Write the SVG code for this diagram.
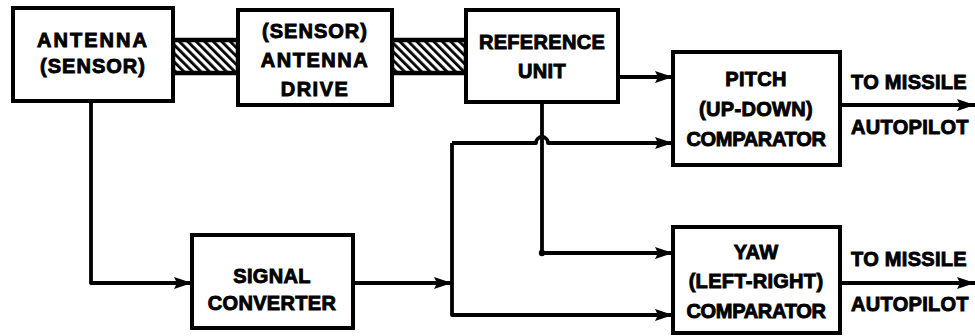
<svg xmlns="http://www.w3.org/2000/svg" width="975" height="336" viewBox="0 0 975 336">
<style>
.box{fill:#fff;stroke:#000;stroke-width:4}
.ln{fill:none;stroke:#000;stroke-width:3.8;stroke-linejoin:round}
.t{font-family:"Liberation Sans",Arial,sans-serif;font-weight:bold;font-size:20px;fill:#000;stroke:#000;stroke-width:0.9;text-anchor:middle;letter-spacing:0.3px}
.o{text-anchor:start}
.n{letter-spacing:-0.3px}
</style>
<defs>
<marker id="ah" viewBox="0 0 18 12" refX="18" refY="6" markerWidth="18" markerHeight="12" markerUnits="userSpaceOnUse" orient="auto">
<path d="M0,0 L18,6 L0,12 L3,6 Z" fill="#000"/>
</marker>
<pattern id="hatch" width="6" height="6" patternUnits="userSpaceOnUse" patternTransform="rotate(-45)">
<rect x="0" y="0" width="6" height="6" fill="#fff"/>
<rect x="0" y="0" width="2.8" height="6" fill="#000"/>
</pattern>
</defs>
<rect width="975" height="336" fill="#fff"/>
<g id="shafts">
<rect x="173" y="40" width="65" height="33" fill="url(#hatch)" stroke="#000" stroke-width="4.5"/>
<rect x="392" y="40" width="74" height="33" fill="url(#hatch)" stroke="#000" stroke-width="4.5"/>
</g>
<g id="connectors">
<path class="ln" d="M618,77 H673" marker-end="url(#ah)"/>
<path class="ln" d="M91,101 V283 H192" marker-end="url(#ah)"/>
<path class="ln" d="M353,283 H452" marker-end="url(#ah)"/>
<path class="ln" d="M452,143 V315 H673" marker-end="url(#ah)"/>
<path class="ln" d="M452,143 H536 A6,6 0 0 1 548,143 H673" marker-end="url(#ah)"/>
<path class="ln" d="M542,102 V253 H673" marker-end="url(#ah)"/>
<circle cx="542" cy="253" r="3.2" fill="#000"/>
<path class="ln" d="M840,105 H975" marker-end="url(#ah)"/>
<path class="ln" d="M840,283 H975" marker-end="url(#ah)"/>
</g>
<g id="antenna">
<rect class="box" x="13" y="8" width="160" height="93"/>
<text class="t" x="93" y="47" style="letter-spacing:2px">ANTENNA</text>
<text class="t" x="93" y="73" style="letter-spacing:1px">(SENSOR)</text>
</g>
<g id="antenna-drive">
<rect class="box" x="238" y="10" width="154" height="95"/>
<text class="t" x="315" y="38" style="letter-spacing:1px">(SENSOR)</text>
<text class="t" x="315" y="67" style="letter-spacing:1.5px">ANTENNA</text>
<text class="t" x="315" y="96" style="letter-spacing:1.5px">DRIVE</text>
</g>
<g id="reference-unit">
<rect class="box" x="466" y="10" width="152" height="92"/>
<text class="t" x="542" y="49">REFERENCE</text>
<text class="t" x="542" y="78">UNIT</text>
</g>
<g id="pitch-comparator">
<rect class="box" x="673" y="52" width="167" height="113"/>
<text class="t" x="756" y="86">PITCH</text>
<text class="t" x="756" y="116">(UP-DOWN)</text>
<text class="t n" x="756" y="146">COMPARATOR</text>
<text class="t o" x="851" y="89">TO MISSILE</text>
<text class="t o" x="851" y="134">AUTOPILOT</text>
</g>
<g id="signal-converter">
<rect class="box" x="192" y="235" width="161" height="93"/>
<text class="t" x="272" y="283">SIGNAL</text>
<text class="t" x="272" y="310">CONVERTER</text>
</g>
<g id="yaw-comparator">
<rect class="box" x="673" y="227" width="167" height="106"/>
<text class="t" x="756" y="259">YAW</text>
<text class="t" x="756" y="288">(LEFT-RIGHT)</text>
<text class="t n" x="756" y="318">COMPARATOR</text>
<text class="t o" x="851" y="266">TO MISSILE</text>
<text class="t o" x="851" y="311">AUTOPILOT</text>
</g>
</svg>
